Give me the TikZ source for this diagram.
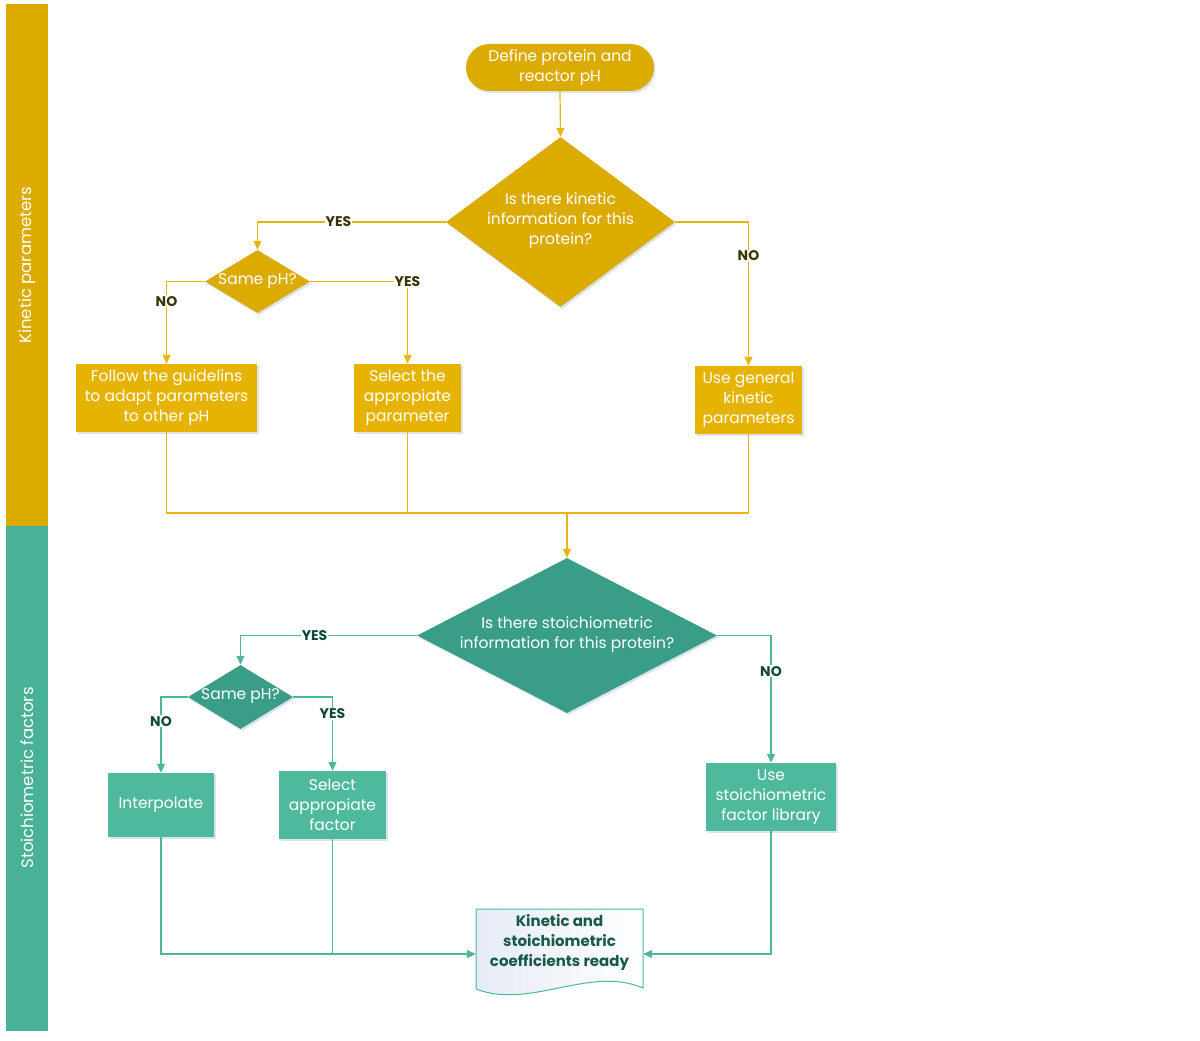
\documentclass[tikz,border=0pt]{standalone}
\usepackage{fontspec}
\setmainfont{Poppins}
\usetikzlibrary{shapes.geometric,arrows.meta,shadows}
\definecolor{gold}{HTML}{DBAB00}
\definecolor{golddia}{HTML}{DBAB00}
\definecolor{goldbox}{HTML}{E6B400}
\definecolor{goldline}{HTML}{E8B60C}
\definecolor{tealbar}{HTML}{48B196}
\definecolor{tealdia}{HTML}{3A9D87}
\definecolor{tealbox}{HTML}{4FB99E}
\definecolor{tealline}{HTML}{4DB79C}
\definecolor{ylab}{HTML}{3B3300}
\definecolor{tlab}{HTML}{0E4A3C}
\definecolor{doctxt}{HTML}{17594A}
\definecolor{shadowc}{HTML}{AFC0D8}
\definecolor{docfill}{HTML}{E6EBF6}
\begin{document}
\begin{tikzpicture}[x=1pt,y=-1pt,
  font=\fontsize{15.5}{20}\selectfont,
  shad/.style={drop shadow={shadow xshift=1.5pt,shadow yshift=-2pt,opacity=0.45,fill=shadowc}},
  bar/.style={rectangle,anchor=north west,minimum width=42,inner sep=0},
  barlab/.style={rotate=90,text=white,font=\fontsize{16.5}{18}\selectfont},
  gbox/.style={rectangle,fill=goldbox,text=white,align=center,inner sep=0,shad},
  tbox/.style={rectangle,fill=tealbox,text=white,align=center,inner sep=0,shad},
  gdia/.style={diamond,fill=golddia,inner sep=0,shad},
  tdia/.style={diamond,fill=tealdia,inner sep=0,shad},
  txt/.style={text=white,align=center,inner sep=0},
  gline/.style={draw=goldline,line width=1.2pt},
  tline/.style={draw=tealline,line width=1.2pt},
  garr/.style={gline,-{Triangle[width=8pt,length=9pt]}},
  tarr/.style={tline,-{Triangle[width=8pt,length=9pt]}},
  ylabel/.style={fill=white,inner sep=1pt,text=ylab,font=\fontsize{14}{16}\selectfont\bfseries},
  tlabel/.style={fill=white,inner sep=1pt,text=tlab,font=\fontsize{14}{16}\selectfont\bfseries}
]
\useasboundingbox (0,0) rectangle (1200,1041);

% swimlane bars
\node[bar,fill=gold,minimum height=522] (barK) at (6,4) {};
\node[bar,fill=tealbar,minimum height=505] (barS) at (6,526) {};
\node[barlab] (barKlab) at (27,265) {Kinetic parameters};
\node[barlab] (barSlab) at (27,778) {Stoichiometric factors};

% kinetic part
\node[rectangle,rounded corners=23.5,fill=golddia,minimum width=188,minimum height=47,text=white,align=center,inner sep=0,shad] (start) at (560,67.5) {Define protein and\\reactor pH};
\node[gdia,minimum width=229,minimum height=170] (d1) at (560.5,222) {};
\node[txt] (d1t) at (560.5,221) {Is there kinetic\\information for this\\protein?};
\node[gdia,minimum width=105,minimum height=63] (sd1) at (257.5,281.5) {};
\node[txt] (sd1t) at (257.5,281) {Same pH?};
\node[gbox,minimum width=181,minimum height=68] (b1) at (166.5,398) {Follow the guidelins\\to adapt parameters\\to other pH};
\node[gbox,minimum width=107,minimum height=68] (b2) at (407.5,398) {Select the\\appropiate\\parameter};
\node[gbox,minimum width=107,minimum height=68] (b3) at (748.5,400) {Use general\\kinetic\\parameters};

\draw[garr] (start.south) -- (d1.north);
\draw[garr] (d1.west) -| node[ylabel,pos=0.285]{YES} (sd1.north);
\draw[garr] (sd1.west) -| node[ylabel,pos=0.62]{NO} (b1.north);
\draw[garr] (sd1.east) -| node[ylabel,pos=0.5]{YES} (b2.north);
\draw[garr] (d1.east) -| node[ylabel,pos=0.618]{NO} (b3.north);
\coordinate (m) at (567,513);
\draw[gline] (b1.south) |- (m);
\draw[gline] (b2.south) |- (m);
\draw[gline] (b3.south) |- (m);

% stoichiometric part
\node[tdia,minimum width=300,minimum height=155] (d2) at (567,635.5) {};
\node[txt] (d2t) at (567,635) {Is there stoichiometric\\information for this protein?};
\draw[garr] (m) -- (d2.north);
\node[tdia,minimum width=105,minimum height=64] (sd2) at (240.5,697) {};
\node[txt] (sd2t) at (240.5,696) {Same pH?};
\node[tbox,minimum width=106,minimum height=64] (b4) at (161,805) {Interpolate};
\node[tbox,minimum width=107,minimum height=68] (b5) at (332.5,805) {Select\\appropiate\\factor};
\node[tbox,minimum width=130,minimum height=68] (b6) at (771,797) {Use\\stoichiometric\\factor library};

\draw[tarr] (d2.west) -| node[tlabel,pos=0.29]{YES} (sd2.north);
\draw[tarr] (sd2.west) -| node[tlabel,pos=0.66]{NO} (b4.north);
\draw[tarr] (sd2.east) -| node[tlabel,pos=0.615]{YES} (b5.north);
\draw[tarr] (d2.east) -| node[tlabel,pos=0.64]{NO} (b6.north);

% document shape
\node[rectangle,minimum width=167,minimum height=90,inner sep=0] (doc) at (559.5,954) {};
\path[draw=tealline,line width=1pt,left color=docfill,right color=white]
  (476,909) -- (643,909) -- (643,988) .. controls (590,965) and (530,1010) .. (476,989) -- cycle;
\node[align=center,inner sep=0,text=doctxt,font=\fontsize{15}{20}\selectfont\bfseries] (doct) at (559.5,942) {Kinetic and\\stoichiometric\\coefficients ready};

\draw[tarr] (b4.south) |- (doc.west);
\draw[tline] (b5.south) -- (b5.south |- doc.west);
\draw[tarr] (b6.south) |- (doc.east);
\end{tikzpicture}
\end{document}
